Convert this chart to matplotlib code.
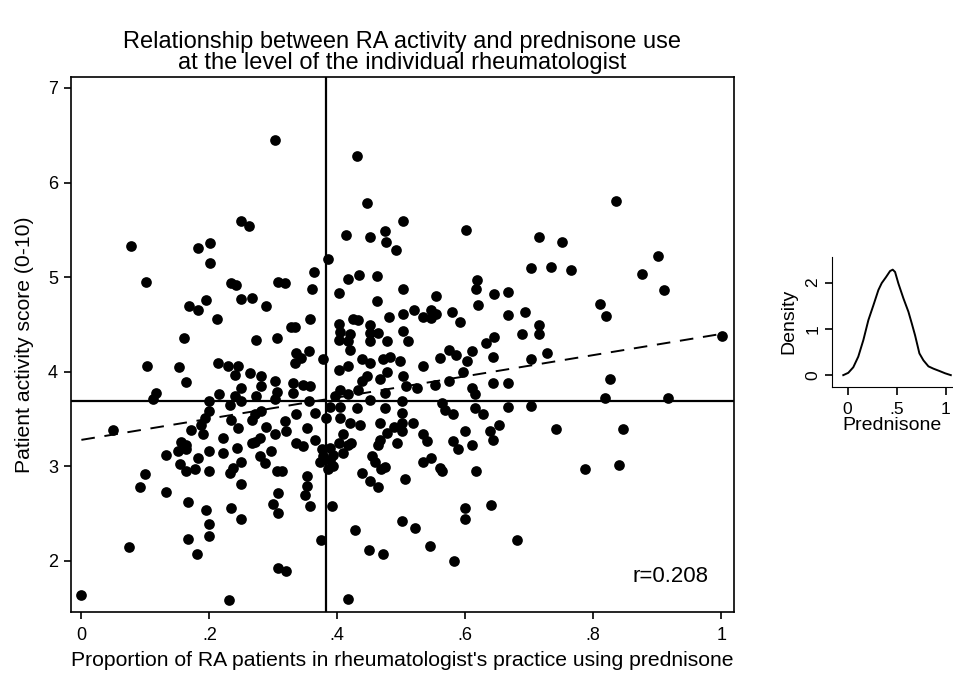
import matplotlib
matplotlib.use('Agg')
import matplotlib.pyplot as plt
import numpy as np

plt.rcParams['font.family'] = ['Liberation Sans', 'DejaVu Sans']

# proportion of RA patients on prednisone (x) and mean activity score (y), per rheumatologist
pred = [0.302, 0.250, 0.262, 0.078, 0.183, 0.201, 0.201, 0.101, 0.234, 0.241, 0.308, 0.318,
        0.168, 0.183, 0.195, 0.250, 0.267, 0.288, 0.212, 0.160, 0.273, 0.305, 0.328,
        0.430, 0.446, 0.502, 0.601, 0.414, 0.451, 0.475, 0.476, 0.492, 0.386, 0.364, 0.361,
        0.417, 0.434, 0.462, 0.403, 0.502, 0.462, 0.555, 0.619, 0.617, 0.620, 0.645, 0.667,
        0.667, 0.357, 0.334, 0.402, 0.425, 0.433, 0.451, 0.481, 0.502, 0.520, 0.534, 0.547,
        0.555, 0.547, 0.580, 0.592, 0.404, 0.420, 0.451, 0.464, 0.502, 0.402, 0.417, 0.451,
        0.477, 0.511, 0.645, 0.633,
        0.835, 0.716, 0.751, 0.702, 0.734, 0.765, 0.901, 0.876, 0.911, 0.811, 0.820, 0.694,
        0.716, 0.716, 0.689, 1.001,
        0.102, 0.152, 0.164, 0.116, 0.112, 0.049, 0.214, 0.229, 0.245, 0.240, 0.263, 0.281,
        0.302, 0.250, 0.281, 0.305, 0.240, 0.250, 0.273, 0.302, 0.215, 0.200, 0.232, 0.200,
        0.193, 0.187, 0.172, 0.190, 0.234, 0.245, 0.266, 0.281, 0.271, 0.318, 0.320, 0.289,
        0.302, 0.271, 0.279, 0.266, 0.221, 0.156, 0.164, 0.151, 0.164, 0.133, 0.200, 0.221,
        0.244, 0.182, 0.250, 0.297, 0.279, 0.287, 0.154, 0.164, 0.177, 0.200, 0.237, 0.232,
        0.305, 0.313, 0.100, 0.091, 0.133, 0.249, 0.307, 0.300, 0.307, 0.167, 0.195, 0.234,
        0.249, 0.200, 0.200, 0.167, 0.181, 0.075, 0.307, 0.320, 0.000, 0.231,
        0.336, 0.355, 0.344, 0.334, 0.378, 0.331, 0.347, 0.357, 0.331, 0.355, 0.336, 0.352,
        0.365, 0.336, 0.347, 0.376, 0.378, 0.373, 0.388, 0.394, 0.386, 0.352, 0.352, 0.349,
        0.357, 0.391, 0.375, 0.416, 0.428, 0.450, 0.471, 0.501, 0.521, 0.545, 0.583, 0.640,
        0.599, 0.599, 0.506, 0.438, 0.451, 0.464, 0.454, 0.459, 0.469, 0.474, 0.534, 0.547,
        0.561, 0.563, 0.616, 0.464, 0.467, 0.477, 0.493, 0.501, 0.501, 0.519, 0.488, 0.534,
        0.540, 0.581, 0.589, 0.599, 0.610, 0.639, 0.644, 0.653, 0.409, 0.402, 0.417, 0.422,
        0.388, 0.409, 0.394, 0.420, 0.435, 0.467, 0.365, 0.383, 0.404, 0.388, 0.404, 0.430,
        0.451, 0.474, 0.501, 0.501, 0.563, 0.568, 0.581, 0.615, 0.628, 0.667, 0.396, 0.404,
        0.417, 0.433, 0.446, 0.438, 0.467, 0.474, 0.477, 0.472, 0.482, 0.498, 0.503, 0.438,
        0.420, 0.417, 0.402, 0.508, 0.524, 0.534, 0.553, 0.561, 0.574, 0.574, 0.586, 0.602,
        0.610, 0.644, 0.597, 0.610, 0.615, 0.644, 0.667, 0.451,
        0.702, 0.728, 0.826, 0.819, 0.917, 0.703, 0.742, 0.846, 0.787, 0.841, 0.681]
activity = [6.45, 5.59, 5.54, 5.33, 5.31, 5.36, 5.15, 4.95, 4.94, 4.92, 4.95, 4.94,
            4.70, 4.65, 4.76, 4.77, 4.78, 4.70, 4.56, 4.355, 4.34, 4.36, 4.47,
            6.28, 5.78, 5.59, 5.50, 5.45, 5.42, 5.49, 5.37, 5.29, 5.19, 5.05, 4.88,
            4.98, 5.02, 5.01, 4.83, 4.87, 4.75, 4.80, 4.97, 4.88, 4.71, 4.82, 4.84,
            4.60, 4.555, 4.47, 4.51, 4.555, 4.55, 4.495, 4.575, 4.61, 4.65, 4.58, 4.65,
            4.61, 4.57, 4.635, 4.53, 4.42, 4.40, 4.41, 4.41, 4.43, 4.34, 4.32, 4.325,
            4.32, 4.32, 4.37, 4.30,
            5.80, 5.42, 5.375, 5.10, 5.11, 5.08, 5.22, 5.03, 4.865, 4.72, 4.59, 4.635,
            4.49, 4.40, 4.40, 4.38,
            4.06, 4.05, 3.89, 3.78, 3.71, 3.38, 4.09, 4.06, 4.06, 3.97, 3.99, 3.95,
            3.90, 3.83, 3.85, 3.79, 3.74, 3.69, 3.74, 3.71, 3.77, 3.69, 3.65, 3.58,
            3.51, 3.44, 3.38, 3.34, 3.49, 3.41, 3.49, 3.58, 3.55, 3.48, 3.37, 3.42,
            3.34, 3.26, 3.30, 3.25, 3.30, 3.26, 3.23, 3.16, 3.18, 3.12, 3.16, 3.14,
            3.19, 3.09, 3.05, 3.16, 3.11, 3.04, 3.02, 2.95, 2.97, 2.95, 2.98, 2.93,
            2.95, 2.95, 2.92, 2.78, 2.73, 2.81, 2.72, 2.60, 2.51, 2.62, 2.54, 2.56,
            2.44, 2.39, 2.26, 2.23, 2.07, 2.15, 1.93, 1.89, 1.645, 1.59,
            4.20, 4.22, 4.15, 4.09, 4.13, 3.88, 3.86, 3.85, 3.78, 3.69, 3.55, 3.41,
            3.28, 3.25, 3.21, 3.18, 3.11, 3.05, 3.07, 3.00, 2.97, 2.90, 2.79, 2.70,
            2.58, 2.58, 2.22, 1.60, 2.33, 2.12, 2.07, 2.42, 2.35, 2.16, 2.00, 2.59,
            2.56, 2.44, 2.87, 2.93, 2.84, 2.78, 3.11, 3.05, 2.97, 2.99, 3.05, 3.09,
            2.98, 2.95, 2.95, 3.23, 3.28, 3.35, 3.25, 3.37, 3.46, 3.46, 3.42, 3.34,
            3.27, 3.27, 3.18, 3.37, 3.23, 3.37, 3.28, 3.44, 3.34, 3.25, 3.23, 3.25,
            3.19, 3.14, 3.12, 3.46, 3.44, 3.46, 3.56, 3.51, 3.51, 3.63, 3.63, 3.62,
            3.70, 3.62, 3.69, 3.56, 3.67, 3.60, 3.55, 3.62, 3.55, 3.63, 3.74, 3.81,
            3.76, 3.81, 3.95, 3.90, 3.92, 3.78, 4.00, 4.13, 4.16, 4.11, 3.95, 4.13,
            4.23, 4.06, 4.02, 3.85, 3.83, 4.06, 3.86, 4.15, 3.90, 4.23, 4.18, 4.11,
            4.22, 4.16, 4.00, 3.83, 3.76, 3.88, 3.88, 4.09,
            4.14, 4.20, 3.92, 3.72, 3.72, 3.64, 3.39, 3.39, 2.97, 3.01, 2.22]

# reference lines and fitted line
mean_pred = 0.382
mean_activity = 3.69
fit_intercept = 3.28
fit_slope = 1.12
r_value = 0.208

# kernel density of prednisone proportion (inset)
dens_x = [-0.045, 0.006, 0.057, 0.108, 0.160, 0.211, 0.262, 0.313, 0.347, 0.391, 0.432,
          0.459, 0.483, 0.517, 0.568, 0.619, 0.653, 0.687, 0.731, 0.772, 0.823, 0.874,
          0.935, 0.993, 1.051]
dens_y = [0.0, 0.05, 0.17, 0.40, 0.76, 1.19, 1.51, 1.84, 1.99, 2.12, 2.25,
          2.28, 2.23, 1.98, 1.66, 1.37, 1.12, 0.86, 0.47, 0.32, 0.19, 0.14,
          0.09, 0.04, 0.0]

fig = plt.figure(figsize=(9.54, 6.75), dpi=100)
ax = fig.add_axes([0.0739, 0.0933, 0.6955, 0.7926])

ax.plot(pred, activity, 'o', color='black', markersize=7.7, markeredgewidth=0)
ax.axvline(mean_pred, color='black', lw=1.6)
ax.axhline(mean_activity, color='black', lw=1.6)
fx = np.array([0, 1])
ax.plot(fx, fit_intercept + fit_slope * fx, color='black', lw=1.4, dashes=(7, 5))

ax.set_xlim(-0.017, 1.02)
ax.set_ylim(1.46, 7.116)
ax.set_xticks([0, 0.2, 0.4, 0.6, 0.8, 1])
ax.set_xticklabels(['0', '.2', '.4', '.6', '.8', '1'])
ax.set_yticks([2, 3, 4, 5, 6, 7])
ax.tick_params(labelsize=13, length=5, width=1.2, pad=4)
ax.tick_params(axis='x', pad=6)
for s in ax.spines.values():
    s.set_linewidth(1.2)
ax.set_xlabel("Proportion of RA patients in rheumatologist's practice using prednisone",
              fontsize=15.2, labelpad=5)
ax.set_ylabel('Patient activity score (0-10)', fontsize=15.2, labelpad=10)
ax.set_title('Relationship between RA activity and prednisone use\n'
             'at the level of the individual rheumatologist', fontsize=17, pad=6,
             linespacing=0.95)
ax.text(0.92, 1.84, 'r=%.3f' % r_value, fontsize=16, ha='center', va='center')

# inset density
ax2 = fig.add_axes([0.8718, 0.4271, 0.1272, 0.1926])
ax2.plot(dens_x, dens_y, color='black', lw=1.4)
ax2.set_xlim(-0.163, 1.074)
ax2.set_ylim(-0.25, 2.56)
ax2.spines['top'].set_visible(False)
ax2.spines['right'].set_visible(False)
ax2.set_xticks([0, 0.5, 1])
ax2.set_xticklabels(['0', '.5', '1'])
ax2.set_yticks([0, 1, 2])
ax2.set_yticklabels(['0', '1', '2'], rotation=90, va='center')
ax2.tick_params(labelsize=12.5, length=5, width=1.2, pad=3)
ax2.tick_params(axis='x', length=6, pad=5)
ax2.set_xlabel('Prednisone', fontsize=14, labelpad=0)
ax2.set_ylabel('Density', fontsize=14, labelpad=6)

fig.savefig('out.png', dpi=100)
